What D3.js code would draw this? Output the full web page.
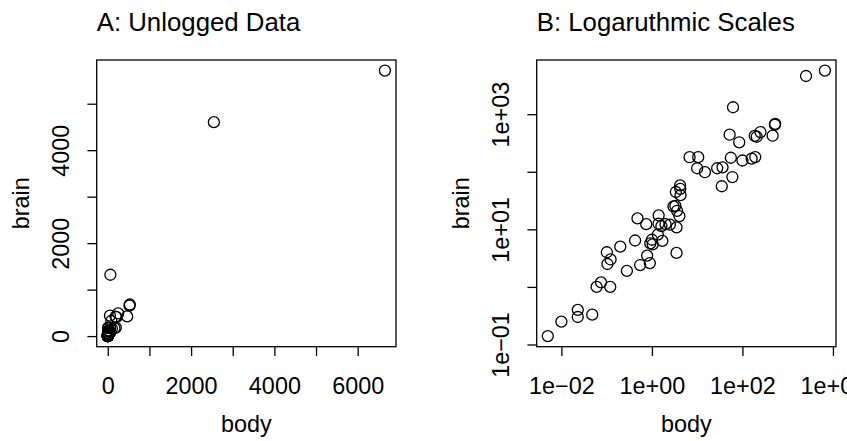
<!DOCTYPE html>
<html>
<head>
<meta charset="utf-8">
<script src="https://cdn.jsdelivr.net/npm/d3@7"></script>
<style>
  body { margin: 0; background: #fff; }
  svg { display: block; }
  text { font-family: "Liberation Sans", Arial, Helvetica, sans-serif; fill: #000; }
</style>
</head>
<body>
<div id="chart"></div>
<script>
var svgWidth = 847;
var svgHeight = 441;

// Mammals data: body weight (kg) and brain weight (g)
var animals = ["Arctic fox", "Owl monkey", "Mountain beaver", "Cow", "Grey wolf", "Goat", "Roe deer",
  "Guinea pig", "Verbet", "Chinchilla", "Ground squirrel", "Arctic ground squirrel",
  "African giant pouched rat", "Lesser short-tailed shrew", "Star-nosed mole", "Nine-banded armadillo",
  "Tree hyrax", "N.A. opossum", "Asian elephant", "Big brown bat", "Donkey", "Horse",
  "European hedgehog", "Patas monkey", "Cat", "Galago", "Genet", "Giraffe", "Gorilla", "Grey seal",
  "Rock hyrax-a", "Human", "African elephant", "Water opossum", "Rhesus monkey", "Kangaroo",
  "Yellow-bellied marmot", "Golden hamster", "Mouse", "Little brown bat", "Slow loris", "Okapi",
  "Rabbit", "Sheep", "Jaguar", "Chimpanzee", "Baboon", "Desert hedgehog", "Giant armadillo",
  "Rock hyrax-b", "Raccoon", "Rat", "E. American mole", "Mole rat", "Musk shrew", "Pig", "Echidna",
  "Brazilian tapir", "Tenrec", "Phalanger", "Tree shrew", "Red fox"];
var body = [3.385, 0.48, 1.35, 465, 36.33, 27.66, 14.83, 1.04, 4.19, 0.425, 0.101, 0.92, 1, 0.005,
  0.06, 3.5, 2, 1.7, 2547, 0.023, 187.1, 521, 0.785, 10, 3.3, 0.2, 1.41, 529, 207, 85, 0.75, 62,
  6654, 3.5, 6.8, 35, 4.05, 0.12, 0.023, 0.01, 1.4, 250, 2.5, 55.5, 100, 52.16, 10.55, 0.55, 60,
  3.6, 4.288, 0.28, 0.075, 0.122, 0.048, 192, 3, 160, 0.9, 1.62, 0.104, 4.235];
var brain = [44.5, 15.5, 8.1, 423, 119.5, 115, 98.2, 5.5, 58, 6.4, 4, 5.7, 6.6, 0.14, 1, 10.8, 12.3,
  6.3, 4603, 0.3, 419, 655, 3.5, 115, 25.6, 5, 17.5, 680, 406, 325, 12.3, 1320, 5712, 3.9, 179, 56,
  17, 1, 0.4, 0.25, 12.5, 490, 12.1, 175, 157, 440, 179.5, 2.4, 81, 21, 39.2, 1.9, 1.2, 3, 0.33,
  180, 25, 169, 2.6, 11.4, 2.5, 50.4];

// Ticks (value) and which ones carry a label
var xTicksA = [0, 1000, 2000, 3000, 4000, 5000, 6000];
var xLabelsA = [0, 2000, 4000, 6000];
var yTicksA = [0, 1000, 2000, 3000, 4000, 5000];
var yLabelsA = [0, 2000, 4000];
var xTicksB = [0.01, 1, 100, 10000];
var xLabelsB = [0.01, 1, 100, 10000];
var yTicksB = [0.1, 1, 10, 100, 1000];
var yLabelsB = [0.1, 10, 1000];

var titles = ["A: Unlogged Data", "B: Logaruthmic Scales"];

var mammals = animals.map(function(d, i) {
  return { name: d, body: body[i], brain: brain[i] };
});

var svg = d3.select("#chart")
  .append("svg")
  .attr("width", svgWidth)
  .attr("height", svgHeight);

var plotTop = 60, plotBottom = 346.7, plotW = 299.3;
var panelLeft = [96.7, 536.7];
var lw = 1.3;
var labelSize = "23.4px";

// R style: extend the data range by 4% on each side
function padLinear(ext) {
  var d = (ext[1] - ext[0]) * 0.04;
  return [ext[0] - d, ext[1] + d];
}
function padLog(ext) {
  var a = Math.log10(ext[0]), b = Math.log10(ext[1]);
  var d = (b - a) * 0.04;
  return [Math.pow(10, a - d), Math.pow(10, b + d)];
}

function sciLabel(v) {
  var e = Math.round(Math.log10(v));
  var s = e < 0 ? "\u2212" : "+";
  var a = Math.abs(e);
  return "1e" + s + (a < 10 ? "0" + a : a);
}

function drawPanel(idx, xScale, yScale, xTicks, xLabels, yTicks, yLabels, fmt) {
  var left = panelLeft[idx];
  var g = svg.append("g");

  // title, left-aligned with the box
  g.append("text")
    .attr("x", left)
    .attr("y", 31)
    .style("font-size", "25.8px")
    .text(titles[idx]);

  // x axis
  var xAxis = d3.axisBottom(xScale)
    .tickValues(xTicks)
    .tickSize(9.3)
    .tickPadding(21.6)
    .tickFormat(function(d) { return xLabels.indexOf(d) >= 0 ? fmt(d) : ""; });

  var gx = g.append("g")
    .attr("transform", `translate(0, ${plotBottom})`)
    .call(xAxis);
  gx.select(".domain").remove();
  gx.selectAll(".tick line").attr("stroke", "#000").attr("stroke-width", lw);
  gx.selectAll("text")
    .style("font-size", labelSize)
    .attr("fill", "#000")
    .attr("font-family", null);

  // y axis with rotated labels
  var yAxis = d3.axisLeft(yScale)
    .tickValues(yTicks)
    .tickSize(9.3)
    .tickFormat(function(d) { return yLabels.indexOf(d) >= 0 ? fmt(d) : ""; });

  var gy = g.append("g")
    .attr("transform", `translate(${left}, 0)`)
    .call(yAxis);
  gy.select(".domain").remove();
  gy.selectAll(".tick line").attr("stroke", "#000").attr("stroke-width", lw);
  gy.selectAll("text")
    .style("font-size", labelSize)
    .attr("fill", "#000")
    .attr("font-family", null)
    .attr("transform", "rotate(-90)")
    .attr("x", 0)
    .attr("y", -27.4)
    .attr("dy", 0)
    .attr("text-anchor", "middle");

  // box
  g.append("rect")
    .attr("x", left)
    .attr("y", plotTop)
    .attr("width", plotW)
    .attr("height", plotBottom - plotTop)
    .attr("fill", "none")
    .attr("stroke", "#000")
    .attr("stroke-width", lw);

  // points
  g.append("g").selectAll("circle")
    .data(mammals)
    .enter().append("circle")
    .attr("cx", function(d) { return xScale(d.body); })
    .attr("cy", function(d) { return yScale(d.brain); })
    .attr("r", 5.5)
    .attr("fill", "none")
    .attr("stroke", "#000")
    .attr("stroke-width", 1.3);

  // axis titles
  g.append("text")
    .attr("x", left + plotW / 2)
    .attr("y", 431.7)
    .attr("text-anchor", "middle")
    .style("font-size", labelSize)
    .text("body");

  g.append("text")
    .attr("transform", `translate(${left - 67.4}, ${(plotTop + plotBottom) / 2}) rotate(-90)`)
    .attr("text-anchor", "middle")
    .style("font-size", labelSize)
    .text("brain");
}

// Panel A: raw values
var xA = d3.scaleLinear()
  .domain(padLinear(d3.extent(body)))
  .range([panelLeft[0], panelLeft[0] + plotW]);
var yA = d3.scaleLinear()
  .domain(padLinear(d3.extent(brain)))
  .range([plotBottom, plotTop]);
drawPanel(0, xA, yA, xTicksA, xLabelsA, yTicksA, yLabelsA, function(d) { return String(d); });

// Panel B: log scales (the last x label runs off the right edge, as in the original)
var xB = d3.scaleLog()
  .domain(padLog(d3.extent(body)))
  .range([panelLeft[1], panelLeft[1] + plotW]);
var yB = d3.scaleLog()
  .domain(padLog(d3.extent(brain)))
  .range([plotBottom, plotTop]);
drawPanel(1, xB, yB, xTicksB, xLabelsB, yTicksB, yLabelsB, sciLabel);
</script>
</body>
</html>
